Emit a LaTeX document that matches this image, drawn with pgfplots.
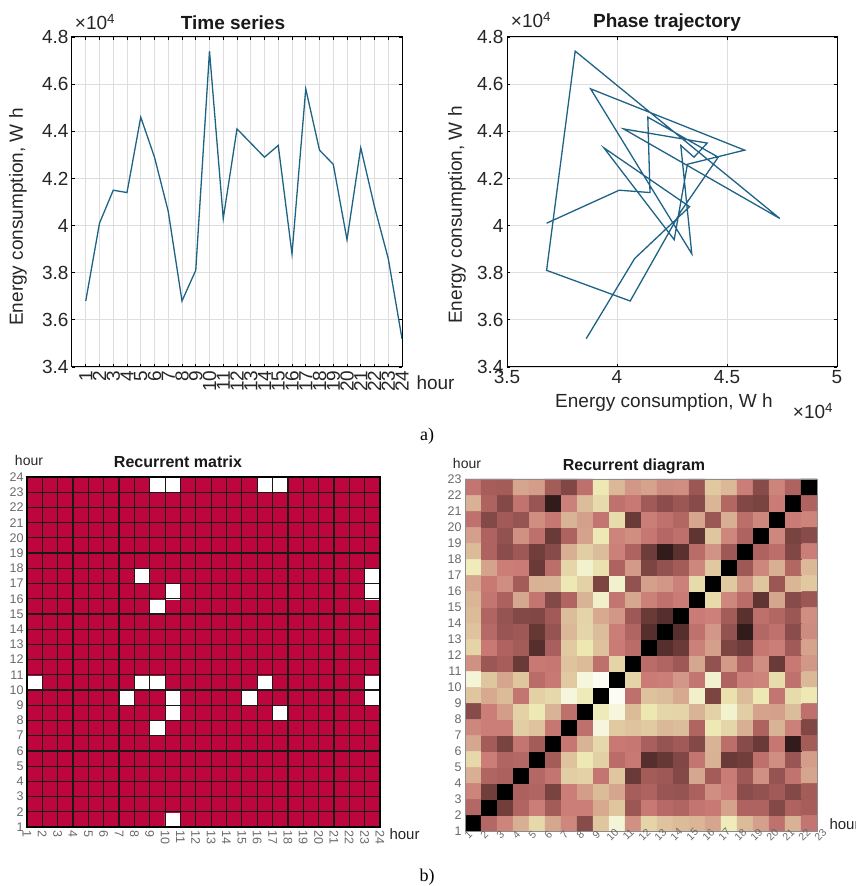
\documentclass[border=0pt]{standalone}
\usepackage{pgfplots}
\pgfplotsset{compat=1.18}
\usepackage{fontspec}
\setmainfont{Liberation Sans}
\newfontfamily\serifa{Liberation Serif}
\definecolor{tsline}{RGB}{30,98,134}
\definecolor{tickgray}{RGB}{105,105,105}
\newcommand\fs[1]{\fontsize{#1}{#1}\selectfont}
\pgfplotsset{/pgf/number format/assume math mode=true}
\begin{document}
\begin{tikzpicture}
\useasboundingbox (0,0) rectangle (855pt,886pt);
% ---------- Time series ----------
\begin{axis}[
 at={(72pt,519pt)}, anchor=south west, scale only axis, width=330pt, height=330pt,
 xmin=0, xmax=24, ymin=3.4, ymax=4.8,
 xtick={1,...,24},
 ytick={3.4,3.6,3.8,4,4.2,4.4,4.6,4.8},
 yticklabels={3.4,3.6,3.8,4,4.2,4.4,4.6,4.8},
 grid=major, major grid style={black!13, line width=0.8pt},
 tick align=inside, major tick length=3pt, tick style={black, line width=0.8pt},
 axis line style={line width=1pt},
 tick label style={font=\fs{19}, text=black!85},
 xticklabel style={rotate=90, anchor=east},
]
\addplot[tsline, line width=1.3pt] coordinates {(1,3.68) (2,4.01) (3,4.15) (4,4.14) (5,4.46) (6,4.29) (7,4.06) (8,3.68) (9,3.81) (10,4.74) (11,4.03) (12,4.41) (13,4.35) (14,4.29) (15,4.34) (16,3.88) (17,4.58) (18,4.32) (19,4.26) (20,3.94) (21,4.33) (22,4.08) (23,3.86) (24,3.52)};
\end{axis}
% ---------- Phase trajectory ----------
\begin{axis}[
 at={(507pt,519pt)}, anchor=south west, scale only axis, width=330pt, height=330pt,
 xmin=3.5, xmax=5, ymin=3.4, ymax=4.8,
 xtick={3.5,4,4.5,5}, xticklabels={3.5,4,4.5,5},
 ytick={3.4,3.6,3.8,4,4.2,4.4,4.6,4.8},
 yticklabels={3.4,3.6,3.8,4,4.2,4.4,4.6,4.8},
 grid=major, major grid style={black!13, line width=0.8pt},
 tick align=inside, major tick length=3pt, tick style={black, line width=0.8pt},
 axis line style={line width=1pt},
 tick label style={font=\fs{19}, text=black!85},
]
\addplot[tsline, line width=1.3pt] coordinates {(3.68,4.01) (4.01,4.15) (4.15,4.14) (4.14,4.46) (4.46,4.29) (4.29,4.06) (4.06,3.68) (3.68,3.81) (3.81,4.74) (4.74,4.03) (4.03,4.41) (4.41,4.35) (4.35,4.29) (4.29,4.34) (4.34,3.88) (3.88,4.58) (4.58,4.32) (4.32,4.26) (4.26,3.94) (3.94,4.33) (4.33,4.08) (4.08,3.86) (3.86,3.52)};
\end{axis}
% ---------- Recurrent matrix ----------
\begin{axis}[
 at={(27pt,59pt)}, anchor=south west, scale only axis, width=353pt, height=350pt,
 xmin=0.5, xmax=23.5, ymin=0.5, ymax=23.5, y dir=normal,
 xtick={0.5,1.5,...,23.5}, ytick={0.5,1.5,...,23.5},
 xticklabels={1,2,3,4,5,6,7,8,9,10,11,12,13,14,15,16,17,18,19,20,21,22,23,24},
 yticklabels={1,2,3,4,5,6,7,8,9,10,11,12,13,14,15,16,17,18,19,20,21,22,23,24},
 grid=major, major grid style={black!90, line width=1.2pt},
 major tick length=0pt, axis line style={line width=1.2pt, black},
 tick label style={font=\fs{12.5}, text=tickgray},
 xticklabel style={rotate=-90, anchor=west},
 colormap={rm}{rgb255=(190,6,62) rgb255=(255,255,255)},
 point meta min=0, point meta max=1, axis on top,
]
\addplot[matrix plot*, point meta=explicit, mesh/cols=23]
table[meta=c, row sep=\\]{x y c\\
1 1 0\\2 1 0\\3 1 0\\4 1 0\\5 1 0\\6 1 0\\7 1 0\\8 1 0\\9 1 0\\10 1 1\\11 1 0\\12 1 0\\13 1 0\\14 1 0\\15 1 0\\16 1 0\\17 1 0\\18 1 0\\19 1 0\\20 1 0\\21 1 0\\22 1 0\\23 1 0\\
1 2 0\\2 2 0\\3 2 0\\4 2 0\\5 2 0\\6 2 0\\7 2 0\\8 2 0\\9 2 0\\10 2 0\\11 2 0\\12 2 0\\13 2 0\\14 2 0\\15 2 0\\16 2 0\\17 2 0\\18 2 0\\19 2 0\\20 2 0\\21 2 0\\22 2 0\\23 2 0\\
1 3 0\\2 3 0\\3 3 0\\4 3 0\\5 3 0\\6 3 0\\7 3 0\\8 3 0\\9 3 0\\10 3 0\\11 3 0\\12 3 0\\13 3 0\\14 3 0\\15 3 0\\16 3 0\\17 3 0\\18 3 0\\19 3 0\\20 3 0\\21 3 0\\22 3 0\\23 3 0\\
1 4 0\\2 4 0\\3 4 0\\4 4 0\\5 4 0\\6 4 0\\7 4 0\\8 4 0\\9 4 0\\10 4 0\\11 4 0\\12 4 0\\13 4 0\\14 4 0\\15 4 0\\16 4 0\\17 4 0\\18 4 0\\19 4 0\\20 4 0\\21 4 0\\22 4 0\\23 4 0\\
1 5 0\\2 5 0\\3 5 0\\4 5 0\\5 5 0\\6 5 0\\7 5 0\\8 5 0\\9 5 0\\10 5 0\\11 5 0\\12 5 0\\13 5 0\\14 5 0\\15 5 0\\16 5 0\\17 5 0\\18 5 0\\19 5 0\\20 5 0\\21 5 0\\22 5 0\\23 5 0\\
1 6 0\\2 6 0\\3 6 0\\4 6 0\\5 6 0\\6 6 0\\7 6 0\\8 6 0\\9 6 0\\10 6 0\\11 6 0\\12 6 0\\13 6 0\\14 6 0\\15 6 0\\16 6 0\\17 6 0\\18 6 0\\19 6 0\\20 6 0\\21 6 0\\22 6 0\\23 6 0\\
1 7 0\\2 7 0\\3 7 0\\4 7 0\\5 7 0\\6 7 0\\7 7 0\\8 7 0\\9 7 1\\10 7 0\\11 7 0\\12 7 0\\13 7 0\\14 7 0\\15 7 0\\16 7 0\\17 7 0\\18 7 0\\19 7 0\\20 7 0\\21 7 0\\22 7 0\\23 7 0\\
1 8 0\\2 8 0\\3 8 0\\4 8 0\\5 8 0\\6 8 0\\7 8 0\\8 8 0\\9 8 0\\10 8 1\\11 8 0\\12 8 0\\13 8 0\\14 8 0\\15 8 0\\16 8 0\\17 8 1\\18 8 0\\19 8 0\\20 8 0\\21 8 0\\22 8 0\\23 8 0\\
1 9 0\\2 9 0\\3 9 0\\4 9 0\\5 9 0\\6 9 0\\7 9 1\\8 9 0\\9 9 0\\10 9 1\\11 9 0\\12 9 0\\13 9 0\\14 9 0\\15 9 1\\16 9 0\\17 9 0\\18 9 0\\19 9 0\\20 9 0\\21 9 0\\22 9 0\\23 9 1\\
1 10 1\\2 10 0\\3 10 0\\4 10 0\\5 10 0\\6 10 0\\7 10 0\\8 10 1\\9 10 1\\10 10 0\\11 10 0\\12 10 0\\13 10 0\\14 10 0\\15 10 0\\16 10 1\\17 10 0\\18 10 0\\19 10 0\\20 10 0\\21 10 0\\22 10 0\\23 10 1\\
1 11 0\\2 11 0\\3 11 0\\4 11 0\\5 11 0\\6 11 0\\7 11 0\\8 11 0\\9 11 0\\10 11 0\\11 11 0\\12 11 0\\13 11 0\\14 11 0\\15 11 0\\16 11 0\\17 11 0\\18 11 0\\19 11 0\\20 11 0\\21 11 0\\22 11 0\\23 11 0\\
1 12 0\\2 12 0\\3 12 0\\4 12 0\\5 12 0\\6 12 0\\7 12 0\\8 12 0\\9 12 0\\10 12 0\\11 12 0\\12 12 0\\13 12 0\\14 12 0\\15 12 0\\16 12 0\\17 12 0\\18 12 0\\19 12 0\\20 12 0\\21 12 0\\22 12 0\\23 12 0\\
1 13 0\\2 13 0\\3 13 0\\4 13 0\\5 13 0\\6 13 0\\7 13 0\\8 13 0\\9 13 0\\10 13 0\\11 13 0\\12 13 0\\13 13 0\\14 13 0\\15 13 0\\16 13 0\\17 13 0\\18 13 0\\19 13 0\\20 13 0\\21 13 0\\22 13 0\\23 13 0\\
1 14 0\\2 14 0\\3 14 0\\4 14 0\\5 14 0\\6 14 0\\7 14 0\\8 14 0\\9 14 0\\10 14 0\\11 14 0\\12 14 0\\13 14 0\\14 14 0\\15 14 0\\16 14 0\\17 14 0\\18 14 0\\19 14 0\\20 14 0\\21 14 0\\22 14 0\\23 14 0\\
1 15 0\\2 15 0\\3 15 0\\4 15 0\\5 15 0\\6 15 0\\7 15 0\\8 15 0\\9 15 1\\10 15 0\\11 15 0\\12 15 0\\13 15 0\\14 15 0\\15 15 0\\16 15 0\\17 15 0\\18 15 0\\19 15 0\\20 15 0\\21 15 0\\22 15 0\\23 15 0\\
1 16 0\\2 16 0\\3 16 0\\4 16 0\\5 16 0\\6 16 0\\7 16 0\\8 16 0\\9 16 0\\10 16 1\\11 16 0\\12 16 0\\13 16 0\\14 16 0\\15 16 0\\16 16 0\\17 16 0\\18 16 0\\19 16 0\\20 16 0\\21 16 0\\22 16 0\\23 16 1\\
1 17 0\\2 17 0\\3 17 0\\4 17 0\\5 17 0\\6 17 0\\7 17 0\\8 17 1\\9 17 0\\10 17 0\\11 17 0\\12 17 0\\13 17 0\\14 17 0\\15 17 0\\16 17 0\\17 17 0\\18 17 0\\19 17 0\\20 17 0\\21 17 0\\22 17 0\\23 17 1\\
1 18 0\\2 18 0\\3 18 0\\4 18 0\\5 18 0\\6 18 0\\7 18 0\\8 18 0\\9 18 0\\10 18 0\\11 18 0\\12 18 0\\13 18 0\\14 18 0\\15 18 0\\16 18 0\\17 18 0\\18 18 0\\19 18 0\\20 18 0\\21 18 0\\22 18 0\\23 18 0\\
1 19 0\\2 19 0\\3 19 0\\4 19 0\\5 19 0\\6 19 0\\7 19 0\\8 19 0\\9 19 0\\10 19 0\\11 19 0\\12 19 0\\13 19 0\\14 19 0\\15 19 0\\16 19 0\\17 19 0\\18 19 0\\19 19 0\\20 19 0\\21 19 0\\22 19 0\\23 19 0\\
1 20 0\\2 20 0\\3 20 0\\4 20 0\\5 20 0\\6 20 0\\7 20 0\\8 20 0\\9 20 0\\10 20 0\\11 20 0\\12 20 0\\13 20 0\\14 20 0\\15 20 0\\16 20 0\\17 20 0\\18 20 0\\19 20 0\\20 20 0\\21 20 0\\22 20 0\\23 20 0\\
1 21 0\\2 21 0\\3 21 0\\4 21 0\\5 21 0\\6 21 0\\7 21 0\\8 21 0\\9 21 0\\10 21 0\\11 21 0\\12 21 0\\13 21 0\\14 21 0\\15 21 0\\16 21 0\\17 21 0\\18 21 0\\19 21 0\\20 21 0\\21 21 0\\22 21 0\\23 21 0\\
1 22 0\\2 22 0\\3 22 0\\4 22 0\\5 22 0\\6 22 0\\7 22 0\\8 22 0\\9 22 0\\10 22 0\\11 22 0\\12 22 0\\13 22 0\\14 22 0\\15 22 0\\16 22 0\\17 22 0\\18 22 0\\19 22 0\\20 22 0\\21 22 0\\22 22 0\\23 22 0\\
1 23 0\\2 23 0\\3 23 0\\4 23 0\\5 23 0\\6 23 0\\7 23 0\\8 23 0\\9 23 1\\10 23 1\\11 23 0\\12 23 0\\13 23 0\\14 23 0\\15 23 0\\16 23 1\\17 23 1\\18 23 0\\19 23 0\\20 23 0\\21 23 0\\22 23 0\\23 23 0\\
};
\end{axis}
% ---------- Recurrent diagram ----------
\begin{axis}[
 at={(465pt,55pt)}, anchor=south west, scale only axis, width=352pt, height=352pt,
 xmin=0.5, xmax=22.5, ymin=0.5, ymax=22.5, y dir=normal,
 xtick={0.5,1.5,...,22.5}, ytick={0.5,1.5,...,22.5},
 xticklabels={1,2,3,4,5,6,7,8,9,10,11,12,13,14,15,16,17,18,19,20,21,22,23},
 yticklabels={1,2,3,4,5,6,7,8,9,10,11,12,13,14,15,16,17,18,19,20,21,22,23},
 major tick length=0pt, axis line style={line width=0.8pt, black!45},
 tick label style={font=\fs{12.5}, text=tickgray},
 xticklabel style={rotate=45, anchor=north, font=\fs{10.5}, inner sep=1pt},
 colormap={pinkm}{rgb(0pt)=(0,0,0) rgb(50pt)=(0.30,0.16,0.16) rgb(100pt)=(0.42,0.23,0.22) rgb(188pt)=(0.57,0.32,0.31) rgb(250pt)=(0.66,0.37,0.36) rgb(375pt)=(0.79,0.48,0.46) rgb(470pt)=(0.83,0.62,0.54) rgb(563pt)=(0.86,0.73,0.60) rgb(650pt)=(0.89,0.82,0.65) rgb(750pt)=(0.93,0.91,0.70) rgb(875pt)=(0.96,0.96,0.85) rgb(1000pt)=(1,1,1)},
 point meta min=0, point meta max=1.22, axis on top,
]
\addplot[matrix plot*, point meta=explicit, mesh/cols=22]
table[meta=c, row sep=\\]{x y c\\
1 1 0\\2 1 0.36\\3 1 0.49\\4 1 0.64\\5 1 0.83\\6 1 0.61\\7 1 0.50\\8 1 0.20\\9 1 0.74\\10 1 1.06\\11 1 0.53\\12 1 0.81\\13 1 0.73\\14 1 0.69\\15 1 0.67\\16 1 0.60\\17 1 0.95\\18 1 0.69\\19 1 0.58\\20 1 0.41\\21 1 0.65\\22 1 0.43\\
1 2 0.36\\2 2 0\\3 2 0.14\\4 2 0.34\\5 2 0.47\\6 2 0.29\\7 2 0.47\\8 2 0.47\\9 2 0.62\\10 2 0.74\\11 2 0.26\\12 2 0.45\\13 2 0.37\\14 2 0.34\\15 2 0.43\\16 2 0.45\\17 2 0.59\\18 2 0.33\\19 2 0.33\\20 2 0.19\\21 2 0.33\\22 2 0.30\\
1 3 0.49\\2 3 0.14\\3 3 0\\4 3 0.32\\5 3 0.34\\6 3 0.16\\7 3 0.47\\8 3 0.57\\9 3 0.69\\10 3 0.60\\11 3 0.30\\12 3 0.33\\13 3 0.25\\14 3 0.24\\15 3 0.32\\16 3 0.52\\17 3 0.47\\18 3 0.21\\19 3 0.23\\20 3 0.28\\21 3 0.19\\22 3 0.29\\
1 4 0.64\\2 4 0.34\\3 4 0.32\\4 4 0\\5 4 0.36\\6 4 0.43\\7 4 0.78\\8 4 0.80\\9 4 0.43\\10 4 0.74\\11 4 0.12\\12 4 0.29\\13 4 0.27\\14 4 0.19\\15 4 0.61\\16 4 0.29\\17 4 0.46\\18 4 0.27\\19 4 0.53\\20 4 0.24\\21 4 0.42\\22 4 0.60\\
1 5 0.83\\2 5 0.47\\3 5 0.34\\4 5 0.36\\5 5 0\\6 5 0.29\\7 5 0.73\\8 5 0.92\\9 5 0.79\\10 5 0.38\\11 5 0.45\\12 5 0.08\\13 5 0.11\\14 5 0.18\\15 5 0.43\\16 5 0.65\\17 5 0.12\\18 5 0.14\\19 5 0.40\\20 5 0.52\\21 5 0.25\\22 5 0.57\\
1 6 0.61\\2 6 0.29\\3 6 0.16\\4 6 0.43\\5 6 0.29\\6 6 0\\7 6 0.44\\8 6 0.66\\9 6 0.83\\10 6 0.45\\11 6 0.44\\12 6 0.31\\13 6 0.24\\14 6 0.28\\15 6 0.19\\16 6 0.66\\17 6 0.39\\18 6 0.20\\19 6 0.12\\20 6 0.44\\21 6 0.04\\22 6 0.29\\
1 7 0.50\\2 7 0.47\\3 7 0.47\\4 7 0.78\\5 7 0.73\\6 7 0.44\\7 7 0\\8 7 0.40\\9 7 1.09\\10 7 0.76\\11 7 0.73\\12 7 0.76\\13 7 0.68\\14 7 0.70\\15 7 0.34\\16 7 0.92\\17 7 0.82\\18 7 0.64\\19 7 0.33\\20 7 0.66\\21 7 0.48\\22 7 0.18\\
1 8 0.20\\2 8 0.47\\3 8 0.57\\4 8 0.80\\5 8 0.92\\6 8 0.66\\7 8 0.40\\8 8 0\\9 8 0.94\\10 8 1.08\\11 8 0.69\\12 8 0.91\\13 8 0.82\\14 8 0.81\\15 8 0.66\\16 8 0.80\\17 8 1.03\\18 8 0.78\\19 8 0.59\\20 8 0.58\\21 8 0.70\\22 8 0.40\\
1 9 0.74\\2 9 0.62\\3 9 0.69\\4 9 0.43\\5 9 0.79\\6 9 0.83\\7 9 1.09\\8 9 0.94\\9 9 0\\10 9 1.17\\11 9 0.40\\12 9 0.72\\13 9 0.70\\14 9 0.62\\15 9 1.01\\16 9 0.17\\17 9 0.88\\18 9 0.70\\19 9 0.92\\20 9 0.43\\21 9 0.84\\22 9 0.92\\
1 10 1.06\\2 10 0.74\\3 10 0.60\\4 10 0.74\\5 10 0.38\\6 10 0.45\\7 10 0.76\\8 10 1.08\\9 10 1.17\\10 10 0\\11 10 0.81\\12 10 0.46\\13 10 0.47\\14 10 0.55\\15 10 0.43\\16 10 1.02\\17 10 0.33\\18 10 0.48\\19 10 0.49\\20 10 0.85\\21 10 0.41\\22 10 0.68\\
1 11 0.53\\2 11 0.26\\3 11 0.30\\4 11 0.12\\5 11 0.45\\6 11 0.44\\7 11 0.73\\8 11 0.69\\9 11 0.40\\10 11 0.81\\11 11 0\\12 11 0.38\\13 11 0.34\\14 11 0.27\\15 11 0.61\\16 11 0.23\\17 11 0.56\\18 11 0.33\\19 11 0.52\\20 11 0.12\\21 11 0.45\\22 11 0.55\\
1 12 0.81\\2 12 0.45\\3 12 0.33\\4 12 0.29\\5 12 0.08\\6 12 0.31\\7 12 0.76\\8 12 0.91\\9 12 0.72\\10 12 0.46\\11 12 0.38\\12 12 0\\13 12 0.08\\14 12 0.12\\15 12 0.48\\16 12 0.58\\17 12 0.17\\18 12 0.13\\19 12 0.44\\20 12 0.47\\21 12 0.28\\22 12 0.59\\
1 13 0.73\\2 13 0.37\\3 13 0.25\\4 13 0.27\\5 13 0.11\\6 13 0.24\\7 13 0.68\\8 13 0.82\\9 13 0.70\\10 13 0.47\\11 13 0.34\\12 13 0.08\\13 13 0\\14 13 0.08\\15 13 0.41\\16 13 0.55\\17 13 0.23\\18 13 0.04\\19 13 0.36\\20 13 0.41\\21 13 0.21\\22 13 0.51\\
1 14 0.69\\2 14 0.34\\3 14 0.24\\4 14 0.19\\5 14 0.18\\6 14 0.28\\7 14 0.70\\8 14 0.81\\9 14 0.62\\10 14 0.55\\11 14 0.27\\12 14 0.12\\13 14 0.08\\14 14 0\\15 14 0.46\\16 14 0.48\\17 14 0.29\\18 14 0.09\\19 14 0.40\\20 14 0.35\\21 14 0.26\\22 14 0.52\\
1 15 0.67\\2 15 0.43\\3 15 0.32\\4 15 0.61\\5 15 0.43\\6 15 0.19\\7 15 0.34\\8 15 0.66\\9 15 1.01\\10 15 0.43\\11 15 0.61\\12 15 0.48\\13 15 0.41\\14 15 0.46\\15 15 0\\16 15 0.84\\17 15 0.50\\18 15 0.38\\19 15 0.10\\20 15 0.60\\21 15 0.20\\22 15 0.26\\
1 16 0.60\\2 16 0.45\\3 16 0.52\\4 16 0.29\\5 16 0.65\\6 16 0.66\\7 16 0.92\\8 16 0.80\\9 16 0.17\\10 16 1.02\\11 16 0.23\\12 16 0.58\\13 16 0.55\\14 16 0.48\\15 16 0.84\\16 16 0\\17 16 0.75\\18 16 0.54\\19 16 0.74\\20 16 0.26\\21 16 0.67\\22 16 0.75\\
1 17 0.95\\2 17 0.59\\3 17 0.47\\4 17 0.46\\5 17 0.12\\6 17 0.39\\7 17 0.82\\8 17 1.03\\9 17 0.88\\10 17 0.33\\11 17 0.56\\12 17 0.17\\13 17 0.23\\14 17 0.29\\15 17 0.50\\16 17 0.75\\17 17 0\\18 17 0.27\\19 17 0.50\\20 17 0.64\\21 17 0.35\\22 17 0.68\\
1 18 0.69\\2 18 0.33\\3 18 0.21\\4 18 0.27\\5 18 0.14\\6 18 0.20\\7 18 0.64\\8 18 0.78\\9 18 0.70\\10 18 0.48\\11 18 0.33\\12 18 0.13\\13 18 0.04\\14 18 0.09\\15 18 0.38\\16 18 0.54\\17 18 0.27\\18 18 0\\19 18 0.33\\20 18 0.39\\21 18 0.18\\22 18 0.47\\
1 19 0.58\\2 19 0.33\\3 19 0.23\\4 19 0.53\\5 19 0.40\\6 19 0.12\\7 19 0.33\\8 19 0.59\\9 19 0.92\\10 19 0.49\\11 19 0.52\\12 19 0.44\\13 19 0.36\\14 19 0.40\\15 19 0.10\\16 19 0.74\\17 19 0.50\\18 19 0.33\\19 19 0\\20 19 0.50\\21 19 0.16\\22 19 0.20\\
1 20 0.41\\2 20 0.19\\3 20 0.28\\4 20 0.24\\5 20 0.52\\6 20 0.44\\7 20 0.66\\8 20 0.58\\9 20 0.43\\10 20 0.85\\11 20 0.12\\12 20 0.47\\13 20 0.41\\14 20 0.35\\15 20 0.60\\16 20 0.26\\17 20 0.64\\18 20 0.39\\19 20 0.50\\20 20 0\\21 20 0.46\\22 20 0.49\\
1 21 0.65\\2 21 0.33\\3 21 0.19\\4 21 0.42\\5 21 0.25\\6 21 0.04\\7 21 0.48\\8 21 0.70\\9 21 0.84\\10 21 0.41\\11 21 0.45\\12 21 0.28\\13 21 0.21\\14 21 0.26\\15 21 0.20\\16 21 0.67\\17 21 0.35\\18 21 0.18\\19 21 0.16\\20 21 0.46\\21 21 0\\22 21 0.33\\
1 22 0.43\\2 22 0.30\\3 22 0.29\\4 22 0.60\\5 22 0.57\\6 22 0.29\\7 22 0.18\\8 22 0.40\\9 22 0.92\\10 22 0.68\\11 22 0.55\\12 22 0.59\\13 22 0.51\\14 22 0.52\\15 22 0.26\\16 22 0.75\\17 22 0.68\\18 22 0.47\\19 22 0.20\\20 22 0.49\\21 22 0.33\\22 22 0\\
};
\end{axis}
% ---------- texts ----------
\node[font=\fs{19}\bfseries, text=black!90] at (233pt,863pt) {Time series};
\node[font=\fs{19}, text=black!85] at (95pt,864pt) {×10\textsuperscript{4}};
\node[font=\fs{19}, text=black!85, rotate=90] at (18pt,669pt) {Energy consumption, W h};
\node[font=\fs{19}, text=black!85, anchor=west] at (413pt,503pt) {hour};
\node[font=\fs{19}\bfseries, text=black!90] at (667pt,863pt) {Phase trajectory};
\node[font=\fs{19}, text=black!85] at (531pt,866pt) {×10\textsuperscript{4}};
\node[font=\fs{19}, text=black!85, rotate=90] at (457pt,671pt) {Energy consumption, W h};
\node[font=\fs{19}, text=black!85] at (664pt,483pt) {Energy consumption, W h};
\node[font=\fs{19}, text=black!85] at (813pt,475pt) {×10\textsuperscript{4}};
\node[font=\serifa\fs{18}] at (427pt,450pt) {a)};
\node[font=\fs{14}, text=black!85] at (29pt,425pt) {hour};
\node[font=\fs{16}\bfseries, text=black!90] at (178pt,424pt) {Recurrent matrix};
\node[font=\fs{15}, text=black!85, anchor=west] at (386pt,52pt) {hour};
\node[font=\fs{14}, text=black!85] at (467pt,422pt) {hour};
\node[font=\fs{16}\bfseries, text=black!90] at (634pt,420pt) {Recurrent diagram};
\node[font=\fs{15}, text=black!85, anchor=west] at (826pt,62pt) {hour};
\node[font=\serifa\fs{18}] at (427pt,9pt) {b)};
\end{tikzpicture}
\end{document}
